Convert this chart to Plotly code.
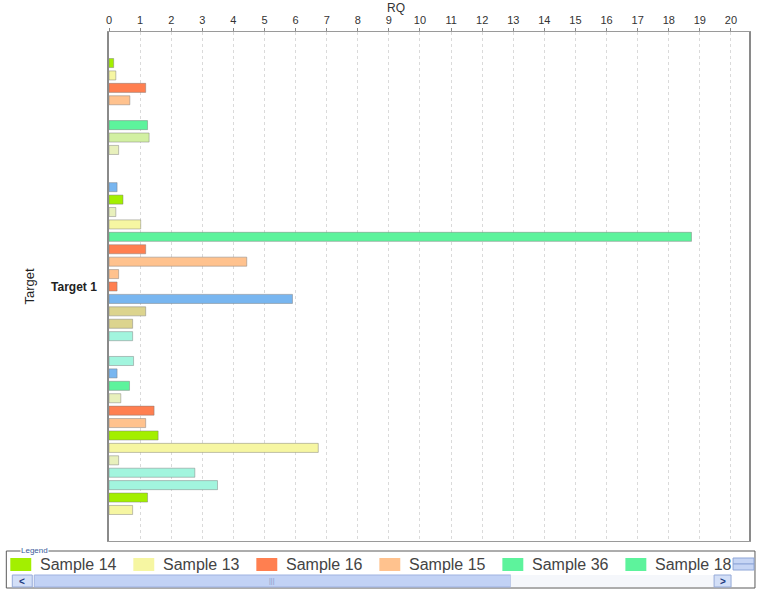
import plotly.graph_objects as go

# ---------------- data ----------------
category = ["Target 1"]

sample_names = [
    "Sample 14", "Sample 13", "Sample 16", "Sample 15", "Sample 36", "Sample 18",
    "Sample 17", "Sample 19", "Sample 20", "Sample 21", "Sample 22", "Sample 23",
    "Sample 24", "Sample 25", "Sample 26", "Sample 27", "Sample 28", "Sample 29",
    "Sample 30", "Sample 31", "Sample 32", "Sample 33", "Sample 34", "Sample 35",
    "Sample 37", "Sample 38", "Sample 39", "Sample 40", "Sample 41", "Sample 42",
    "Sample 43", "Sample 44", "Sample 45", "Sample 46", "Sample 47", "Sample 48",
    "Sample 49",
]

rq_values = [
    0.15, 0.22, 1.18, 0.67, None, 1.24,
    1.29, 0.31, None, None, 0.26, 0.45,
    0.22, 1.02, 18.73, 1.18, 4.43, 0.31,
    0.26, 5.90, 1.18, 0.76, 0.76, None,
    0.79, 0.26, 0.66, 0.38, 1.45, 1.18,
    1.58, 6.73, 0.31, 2.76, 3.49, 1.24,
    0.76,
]

LIME, PALEY, ORANGE, PEACH = "#a3ef00", "#f6f6a2", "#ff7f50", "#ffc28e"
GREEN, LGREEN, PALE, BLUE = "#5df39c", "#d2f0a2", "#e8f0bc", "#78b6f0"
KHAKI, AQUA = "#dcd48e", "#a2f5de"

bar_colors = [
    LIME, PALEY, ORANGE, PEACH, GREEN, GREEN,
    LGREEN, PALE, PALE, PALE, BLUE, LIME,
    PALE, PALEY, GREEN, ORANGE, PEACH, PEACH,
    ORANGE, BLUE, KHAKI, KHAKI, AQUA, AQUA,
    AQUA, BLUE, GREEN, PALE, ORANGE, PEACH,
    LIME, PALEY, PALE, AQUA, AQUA, LIME,
    PALEY,
]

legend_visible = 6
x_ticks = list(range(0, 21))

# ---------------- figure ----------------
FONT = "Liberation Sans, Arial, sans-serif"
W, H = 762, 592
PL, PR, PT, PB = 109, 751, 32, 541


def px(x):
    return (x - PL) / (PR - PL)


def py(y):
    return (PB - y) / (PB - PT)


fig = go.Figure()
for name, val, col in zip(sample_names, rq_values, bar_colors):
    fig.add_trace(go.Bar(
        y=category, x=[val], name=name, orientation="h",
        marker=dict(color=col, line=dict(color="rgba(120,120,120,0.45)", width=1)),
        showlegend=False,
        hovertemplate=name + ": %{x}<extra></extra>",
    ))

shapes = []
annotations = []

# RQ axis title
annotations.append(dict(text="RQ", x=px(397), y=py(8), xref="paper", yref="paper",
                        showarrow=False, xanchor="center", yanchor="middle",
                        font=dict(family=FONT, size=12, color="#333")))

# legend frame
shapes.append(dict(type="rect", xref="paper", yref="paper",
                   x0=px(6), x1=px(757), y0=py(551), y1=py(588),
                   line=dict(color="#5a5a5a", width=1), fillcolor="rgba(0,0,0,0)"))
annotations.append(dict(text="Legend", x=px(20), y=py(550), xref="paper", yref="paper",
                        showarrow=False, xanchor="left", yanchor="middle",
                        bgcolor="white", borderpad=0,
                        font=dict(family=FONT, size=8, color="#3a5a9a")))

pitch = 123.4
for i in range(legend_visible):
    sx = 10 + i * pitch
    shapes.append(dict(type="rect", xref="paper", yref="paper",
                       x0=px(sx), x1=px(sx + 21), y0=py(558), y1=py(571),
                       line=dict(width=0), fillcolor=bar_colors[i]))
    annotations.append(dict(text=sample_names[i], x=px(sx + 28), y=py(564),
                            xref="paper", yref="paper", showarrow=False,
                            xanchor="left", yanchor="middle",
                            font=dict(family=FONT, size=16, color="#444")))

# legend scroll bar
BTN = "#d3dff7"
shapes += [
    dict(type="rect", xref="paper", yref="paper", x0=px(12), x1=px(32),
         y0=py(575), y1=py(587), fillcolor=BTN, line=dict(color="#95aad8", width=1)),
    dict(type="rect", xref="paper", yref="paper", x0=px(34), x1=px(512),
         y0=py(575), y1=py(587), fillcolor="#c2d2f5", line=dict(color="#9fb2e0", width=1)),
    dict(type="rect", xref="paper", yref="paper", x0=px(512), x1=px(716),
         y0=py(575), y1=py(587), fillcolor="#f5f7fb", line=dict(width=0)),
    dict(type="rect", xref="paper", yref="paper", x0=px(716), x1=px(733),
         y0=py(575), y1=py(587), fillcolor=BTN, line=dict(color="#95aad8", width=1)),
    dict(type="rect", xref="paper", yref="paper", x0=px(735), x1=px(756),
         y0=py(558), y1=py(564), fillcolor="#c6d5f4", line=dict(color="#8ea6d8", width=1)),
    dict(type="rect", xref="paper", yref="paper", x0=px(735), x1=px(756),
         y0=py(564), y1=py(570), fillcolor="#c6d5f4", line=dict(color="#8ea6d8", width=1)),
]
annotations += [
    dict(text="<b>&lt;</b>", x=px(22), y=py(581), xref="paper", yref="paper",
         xanchor="center", yanchor="middle",
         showarrow=False, font=dict(family=FONT, size=10, color="#1e3a80")),
    dict(text="<b>&gt;</b>", x=px(724.5), y=py(581), xref="paper", yref="paper",
         xanchor="center", yanchor="middle",
         showarrow=False, font=dict(family=FONT, size=10, color="#1e3a80")),
    dict(text="|||", x=px(273), y=py(581), xref="paper", yref="paper",
         xanchor="center", yanchor="middle",
         showarrow=False, font=dict(family=FONT, size=7, color="#8898c8")),
]

fig.update_layout(
    width=W, height=H,
    margin=dict(l=PL, r=W - PR, t=PT, b=H - PB, pad=0),
    paper_bgcolor="white", plot_bgcolor="white",
    barmode="group", bargap=4 / 41, bargroupgap=0.27,
    showlegend=False,
    font=dict(family=FONT, color="#333"),
    shapes=shapes, annotations=annotations,
    xaxis=dict(
        side="top", range=[0, 20.58], tickmode="array", tickvals=x_ticks,
        ticktext=[str(t) for t in x_ticks],
        showgrid=True, gridcolor="#dadada", griddash="dot", gridwidth=1,
        zeroline=False, showline=True, linecolor="#9a9a9a", linewidth=1, mirror=True,
        ticks="outside", ticklen=3, tickcolor="#888",
        tickfont=dict(family=FONT, size=11, color="#333"),
    ),
    yaxis=dict(
        type="category", autorange="reversed", showgrid=False, zeroline=False,
        showline=True, linecolor="#8a8a8a", linewidth=1.5, mirror=True, ticks="",
        ticklabelstandoff=8,
        tickfont=dict(family=FONT, size=12, color="#222", weight="bold"),
        title=dict(text="Target", standoff=14,
                   font=dict(family=FONT, size=13, color="#222")),
    ),
)

fig.write_html("out.html", config={"displayModeBar": False},
               post_script="document.body.style.margin='0';document.body.style.overflow='hidden';")
